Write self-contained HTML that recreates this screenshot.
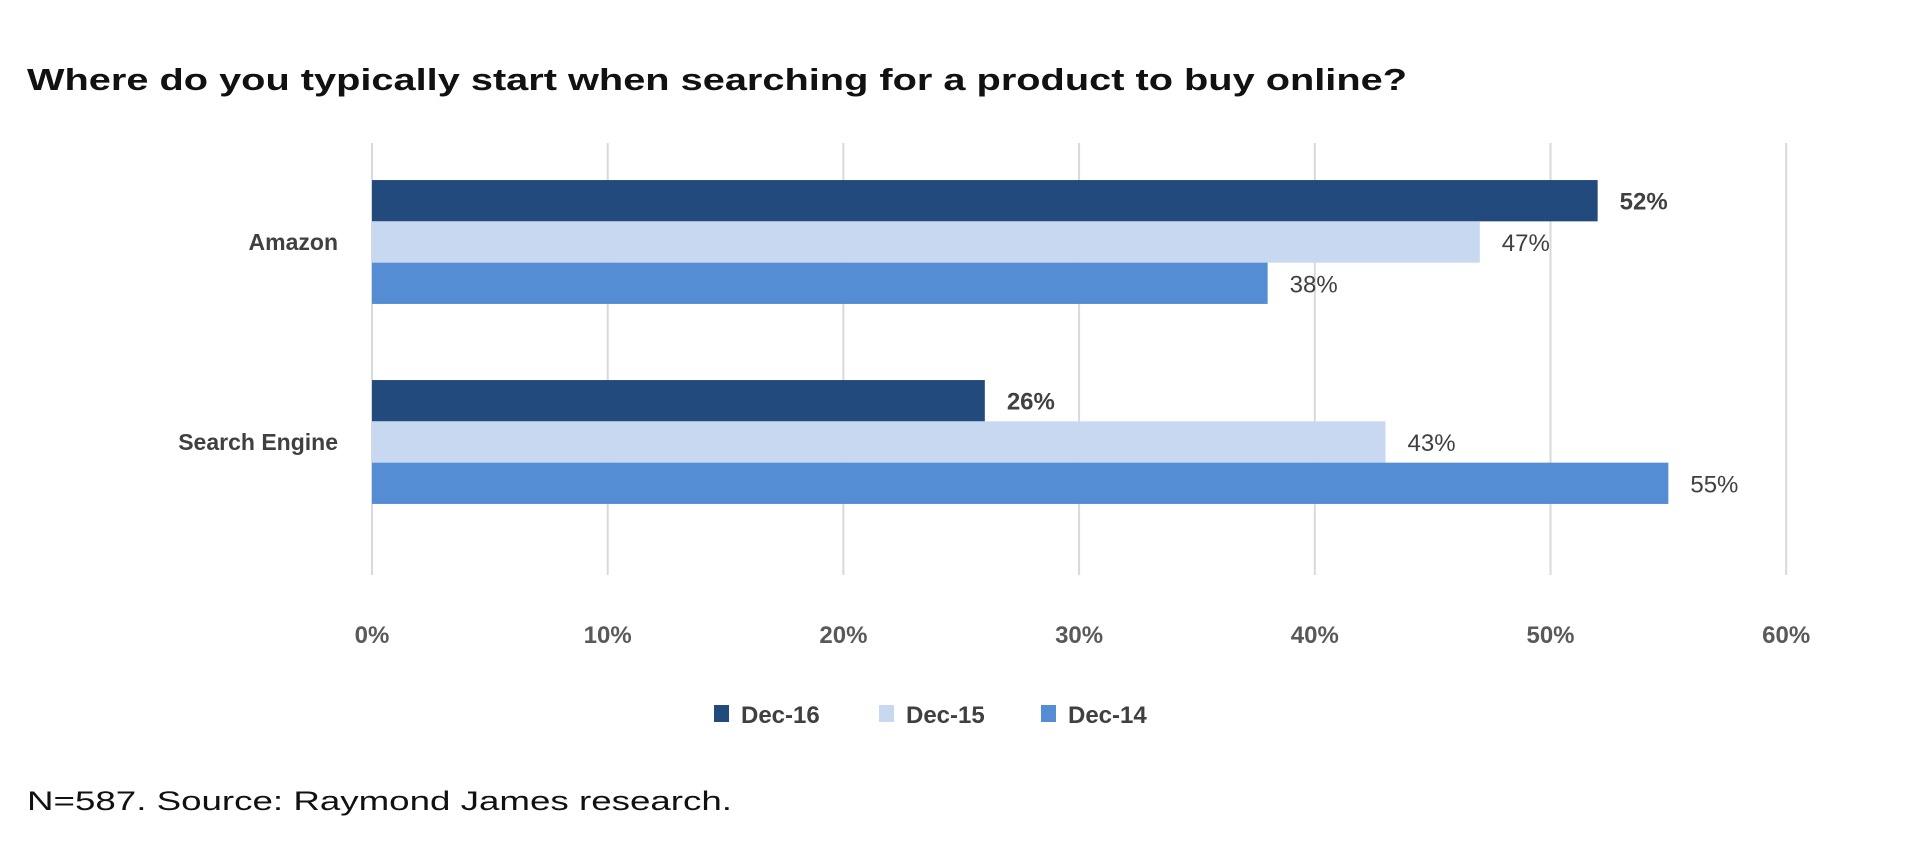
<!DOCTYPE html>
<html><head><meta charset="utf-8"><style>
html,body{margin:0;padding:0;background:#fff;}
svg{display:block;font-family:"Liberation Sans",sans-serif;}
</style></head><body>
<svg id="chart" width="1920" height="861" viewBox="0 0 1920 861">
<text x="27" y="90" font-size="31" font-weight="bold" fill="#111" textLength="1380" lengthAdjust="spacingAndGlyphs">Where do you typically start when searching for a product to buy online?</text>
<g id="grid"></g>
<g id="bars"></g>
<g id="labels"></g>
<g id="legend"></g>
<text x="27" y="810" font-size="27" fill="#111" textLength="705" lengthAdjust="spacingAndGlyphs">N=587.  Source: Raymond James research.</text>
</svg>
<script>
const categories = ["Amazon", "Search Engine"];
const seriesNames = ["Dec-16", "Dec-15", "Dec-14"];
const dec16 = [52, 26];
const dec15 = [47, 43];
const dec14 = [38, 55];
const xTicks = [0, 10, 20, 30, 40, 50, 60];
const colors = ["#234a7c", "#c7d8f0", "#548dd4"];
const NS = "http://www.w3.org/2000/svg";
const x0 = 372, xPer = 23.57, plotTop = 142, band = 200, barH = 41.3, gridBottom = 575;
const xs = v => x0 + v * xPer;
const groupY = i => plotTop + band * (i + 0.5);
function mk(tag, attrs, parent) { const e = document.createElementNS(NS, tag); for (const k in attrs) e.setAttribute(k, attrs[k]); parent.appendChild(e); return e; }
const grid = document.getElementById('grid'), bars = document.getElementById('bars'), labels = document.getElementById('labels'), legend = document.getElementById('legend');
xTicks.forEach(t => {
  const l = mk('line', {x1: xs(t), x2: xs(t), y1: 143, y2: gridBottom, stroke: '#d9d9d9', 'stroke-width': 2}, grid);
  
  
  const tx = mk('text', {x: xs(t), y: 643, 'font-size': 24, 'font-weight': 'bold', fill: '#595959', 'text-anchor': 'middle'}, labels);
  tx.textContent = t + '%';
  
  
});
const series = [dec16, dec15, dec14];
categories.forEach((c, i) => {
  const cy = groupY(i);
  const cl = mk('text', {x: 338, y: cy + 8, 'font-size': 23, 'font-weight': 'bold', fill: '#404040', 'text-anchor': 'end'}, labels);
  cl.textContent = c;
  
  
  series.forEach((s, j) => {
    const y = cy - 1.5 * barH + j * barH;
    const r = mk('rect', {x: x0, y: y, width: xs(s[i]) - x0, height: barH, fill: colors[j]}, bars);
    
    
    const vl = mk('text', {x: xs(s[i]) + 22, y: y + barH / 2 + 9, 'font-size': 24, 'font-weight': j === 0 ? 'bold' : 'normal', fill: '#404040'}, labels);
    vl.textContent = s[i] + '%';
    
    
  });
});
const legX = [714, 879, 1041];
seriesNames.forEach((n, j) => {
  const sq = mk('rect', {x: legX[j], y: 705, width: 15, height: 17, fill: colors[j]}, legend);
  
  
  const t = mk('text', {x: legX[j] + 27, y: 723, 'font-size': 24, 'font-weight': 'bold', fill: '#404040'}, legend);
  t.textContent = n;
  
  
});
</script>
</body></html>
